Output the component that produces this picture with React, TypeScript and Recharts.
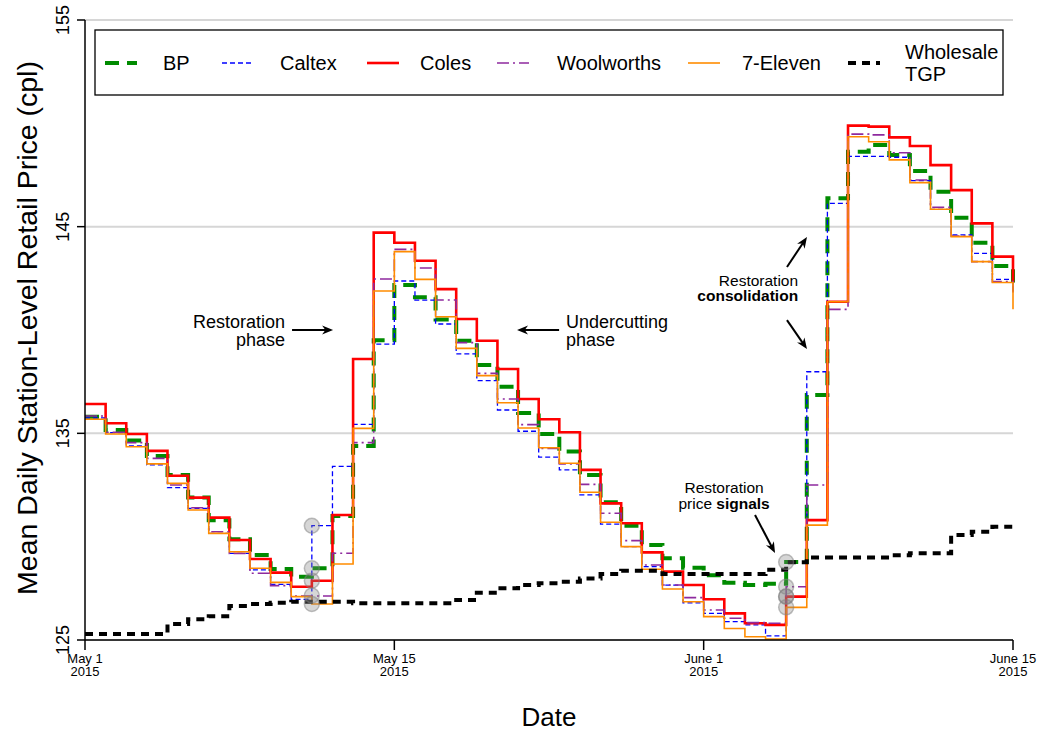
import React from 'react'
import {
  ComposedChart,
  Line,
  XAxis,
  YAxis,
  CartesianGrid,
  ReferenceDot,
  ReferenceLine,
} from 'recharts'

// day index, 0 = May 1 2015
const days = Array.from({ length: 46 }, (_, i) => i)

const bp = [
  135.8, 135.16, 134.65, 133.9, 132.98, 131.9, 130.8, 129.87, 129.11, 128.43,
  128.06, 128.47, 131.0, 134.39, 139.5, 142.18, 141.58, 140.51, 139.48, 138.31,
  137.26, 135.98, 134.97, 134.12, 132.98, 131.66, 130.53, 129.6, 128.95, 128.5,
  128.13, 127.77, 127.66, 127.72, 128.77, 136.85, 146.37, 148.63, 148.95, 148.47,
  147.69, 146.69, 145.43, 144.22, 143.1, 142.3,
]
const caltex = [
  135.75, 135.03, 134.39, 133.47, 132.37, 131.37, 130.16, 129.19, 128.39, 127.69,
  126.97, 130.53, 133.4, 135.43, 139.32, 142.37, 141.45, 140.29, 138.84, 137.55,
  136.13, 135.1, 133.85, 133.23, 132.02, 130.61, 129.52, 128.55, 127.66, 126.8,
  126.29, 125.89, 125.73, 125.2, 127.1, 137.98, 146.13, 148.4, 148.4, 148.36,
  147.23, 145.84, 144.6, 143.71, 142.45, 141.8,
]
const coles = [
  136.42, 135.49, 134.97, 134.15, 132.95, 131.89, 130.92, 129.84, 128.92, 128.26,
  127.58, 127.87, 131.05, 138.6, 144.71, 144.22, 143.35, 141.98, 140.53, 139.48,
  138.11, 136.66, 135.68, 135.05, 133.23, 131.61, 130.65, 129.24, 128.31, 127.66,
  126.97, 126.29, 125.81, 125.73, 127.1, 130.8, 141.37, 149.89, 149.84, 149.32,
  148.9, 147.98, 146.77, 145.16, 143.55, 142.3,
]
const woolworths = [
  135.84, 135.05, 134.55, 133.79, 132.5, 131.4, 130.24, 129.19, 128.23, 127.63,
  127.13, 127.13, 129.2, 134.55, 142.47, 143.9, 143.0, 141.45, 139.39, 137.9,
  136.66, 135.42, 134.27, 133.52, 132.53, 131.13, 129.81, 128.63, 127.66, 127.05,
  126.45, 126.05, 125.84, 125.81, 127.58, 132.5, 141.0, 149.48, 149.44, 148.58,
  147.26, 145.94, 144.55, 143.31, 142.34, 141.8,
]
const sevenEleven = [
  135.68, 134.97, 134.35, 133.52, 132.58, 131.29, 130.16, 129.27, 128.47, 127.79,
  127.1, 126.74, 128.68, 135.24, 141.89, 143.79, 142.45, 140.64, 139.11, 137.79,
  136.48, 135.26, 134.3, 133.55, 132.15, 130.7, 129.52, 128.42, 127.47, 126.85,
  126.13, 125.56, 125.16, 125.05, 126.58, 130.56, 141.37, 149.35, 149.11, 148.23,
  147.13, 145.84, 144.52, 143.31, 142.3, 141.0,
]
const tgp = [
  125.29, 125.29, 125.29, 125.29, 125.77, 126.0, 126.15, 126.65, 126.74, 126.8,
  126.85, 126.85, 126.85, 126.78, 126.78, 126.78, 126.78, 126.78, 126.94, 127.29,
  127.5, 127.66, 127.74, 127.82, 127.98, 128.19, 128.35, 128.35, 128.19, 128.19,
  128.19, 128.19, 128.19, 128.4, 128.76, 128.99, 128.99, 128.99, 128.99, 129.1,
  129.2, 129.2, 130.08, 130.24, 130.48, 130.65,
]

// restoration price signals (grey circles)
const signalDays = [11, 11, 11, 11, 11, 34, 34, 34, 34, 34]
const signalValues = [130.53, 128.47, 127.87, 127.15, 126.74, 128.77, 127.58, 127.1, 127.1, 126.58]

const xTicks = [0, 15, 30, 45]
const xTickLabels = ['May 1', 'May 15', 'June 1', 'June 15']
const yTicks = [125, 135, 145, 155]

const data = days.map((d, i) => ({
  day: d,
  bp: bp[i],
  caltex: caltex[i],
  coles: coles[i],
  woolworths: woolworths[i],
  sevenEleven: sevenEleven[i],
  tgp: tgp[i],
}))

const SERIES = [
  { key: 'bp', name: 'BP', color: '#008B00', width: 4, dash: '14 8' },
  { key: 'caltex', name: 'Caltex', color: '#0000FF', width: 1.3, dash: '5 3' },
  { key: 'coles', name: 'Coles', color: '#FF0000', width: 2.6, dash: undefined },
  { key: 'woolworths', name: 'Woolworths', color: '#8E2A9E', width: 1.6, dash: '12 4 2 4' },
  { key: 'sevenEleven', name: '7-Eleven', color: '#FF8C00', width: 1.6, dash: undefined },
  { key: 'tgp', name: 'Wholesale TGP', color: '#000000', width: 4, dash: '8 6' },
]

const FONT = '"Liberation Sans", Arial, Helvetica, sans-serif'

const arrows = [
  { from: [10.04, 140.0], to: [12.03, 140.0] },
  { from: [22.99, 140.0], to: [20.95, 140.0] },
  { from: [34.04, 143.05], to: [35.01, 144.5] },
  { from: [34.04, 140.48], to: [35.01, 139.08] },
  { from: [32.49, 131.05], to: [33.46, 129.21] },
]

type Seg = { t: string; b?: boolean }
const notes: { at: [number, number]; anchor: string; size: number; lines: Seg[][] }[] = [
  { at: [9.7, 140.1], anchor: 'end', size: 18, lines: [[{ t: 'Restoration' }], [{ t: 'phase' }]] },
  { at: [23.32, 140.1], anchor: 'start', size: 18, lines: [[{ t: 'Undercutting' }], [{ t: 'phase' }]] },
  { at: [34.58, 142.13], anchor: 'end', size: 15.5, lines: [[{ t: 'Restoration' }], [{ t: 'consolidation', b: true }]] },
  { at: [30.99, 132.11], anchor: 'middle', size: 15.5, lines: [[{ t: 'Restoration' }], [{ t: 'price ' }, { t: 'signals', b: true }]] },
]

function Arrow(props: any) {
  const { x1, y1, x2, y2 } = props
  const a = Math.atan2(y2 - y1, x2 - x1)
  const L = 11
  const W = 4.5
  const bx = x2 - L * Math.cos(a)
  const by = y2 - L * Math.sin(a)
  const pts = `${x2},${y2} ${bx - W * Math.sin(a)},${by + W * Math.cos(a)} ${x2 - 0.7 * L * Math.cos(a)},${y2 - 0.7 * L * Math.sin(a)} ${bx + W * Math.sin(a)},${by - W * Math.cos(a)}`
  return (
    <g>
      <line x1={x1} y1={y1} x2={x2 - 6 * Math.cos(a)} y2={y2 - 6 * Math.sin(a)} stroke="#000" strokeWidth={2} />
      <polygon points={pts} fill="#000" />
    </g>
  )
}

function XTick(props: any) {
  const { x, y, payload } = props
  const i = xTicks.indexOf(payload.value)
  return (
    <g>
      <text x={x} y={y + 11} textAnchor="middle" fontSize={13} fill="#000">{xTickLabels[i]}</text>
      <text x={x} y={y + 24} textAnchor="middle" fontSize={13} fill="#000">2015</text>
    </g>
  )
}

function YTick(props: any) {
  const { x, y, payload } = props
  return (
    <text x={x - 6} y={y} textAnchor="middle" fontSize={18} fill="#000" transform={`rotate(-90, ${x - 6}, ${y})`}>
      {payload.value}
    </text>
  )
}

function legendSample(s: (typeof SERIES)[number], x: number) {
  return <line x1={x} y1={63} x2={x + 32} y2={63} stroke={s.color} strokeWidth={s.width} strokeDasharray={s.dash} />
}

const legendSampleX = [105, 222, 367, 497, 688, 848]
const legendTextX = [163, 280, 420, 557, 742, 905]

export default function App() {
  return (
    <div style={{ position: 'absolute', left: 0, top: 0, width: 1043, height: 734, fontFamily: FONT, background: '#fff' }}>
      <ComposedChart width={1043} height={734} data={data} margin={{ top: 20, right: 30, left: 0, bottom: 34 }}>
        <CartesianGrid horizontal vertical={false} stroke="#d6d6d6" strokeWidth={2} />
        <XAxis
          dataKey="day"
          type="number"
          domain={[0, 45]}
          ticks={xTicks}
          height={60}
          tickSize={10}
          axisLine={{ stroke: '#000', strokeWidth: 1.5 }}
          tickLine={{ stroke: '#000', strokeWidth: 1.5 }}
          tick={<XTick />}
        />
        <YAxis
          type="number"
          domain={[125, 155]}
          ticks={yTicks}
          width={85}
          tickSize={8}
          axisLine={{ stroke: '#000', strokeWidth: 1.5 }}
          tickLine={{ stroke: '#000', strokeWidth: 1.5 }}
          tick={<YTick />}
        />
        {SERIES.map((s) => (
          <Line
            key={s.key}
            type="stepAfter"
            dataKey={s.key}
            stroke={s.color}
            strokeWidth={s.width}
            strokeDasharray={s.dash}
            dot={false}
            activeDot={false}
            isAnimationActive={false}
          />
        ))}
        {signalDays.map((d, i) => (
          <ReferenceDot
            key={'sig' + i}
            x={d}
            y={signalValues[i]}
            r={7.5}
            fill="rgba(130,130,130,0.33)"
            stroke="rgba(130,130,130,0.5)"
            strokeWidth={1.5}
          />
        ))}
        {arrows.map((a, i) => (
          <ReferenceLine
            key={'arr' + i}
            segment={[{ x: a.from[0], y: a.from[1] }, { x: a.to[0], y: a.to[1] }]}
            shape={<Arrow />}
          />
        ))}
        {notes.map((n, i) => (
          <ReferenceDot
            key={'note' + i}
            x={n.at[0]}
            y={n.at[1]}
            r={1}
            shape={(p: any) => (
              <text x={p.cx} y={p.cy} textAnchor={n.anchor} fontSize={n.size} fill="#000">
                {n.lines.map((ln, j) => (
                  <tspan key={j} x={p.cx} dy={j === 0 ? 0 : n.size}>
                    {ln.map((sg, k) => (
                      <tspan key={k} fontWeight={sg.b ? 'bold' : 'normal'}>{sg.t}</tspan>
                    ))}
                  </tspan>
                ))}
              </text>
            )}
          />
        ))}
      </ComposedChart>
      <svg width={1043} height={734} style={{ position: 'absolute', left: 0, top: 0, pointerEvents: 'none' }}>
        <rect x={95} y={30} width={908} height={65} fill="#fff" stroke="#000" strokeWidth={1.3} />
        {SERIES.map((s, i) => (
          <g key={s.key}>
            {legendSample(s, legendSampleX[i])}
            {s.key === 'tgp' ? (
              <text x={legendTextX[i]} fontSize={20} fill="#000">
                <tspan x={legendTextX[i]} y={59}>Wholesale</tspan>
                <tspan x={legendTextX[i]} y={81}>TGP</tspan>
              </text>
            ) : (
              <text x={legendTextX[i]} y={70} fontSize={20} fill="#000">{s.name}</text>
            )}
          </g>
        ))}
        <text x={37} y={328} fontSize={28.5} textAnchor="middle" transform="rotate(-90, 37, 328)" fill="#000">
          Mean Daily Station-Level Retail Price (cpl)
        </text>
        <text x={549} y={726} fontSize={26} textAnchor="middle" fill="#000">Date</text>
      </svg>
    </div>
  )
}
